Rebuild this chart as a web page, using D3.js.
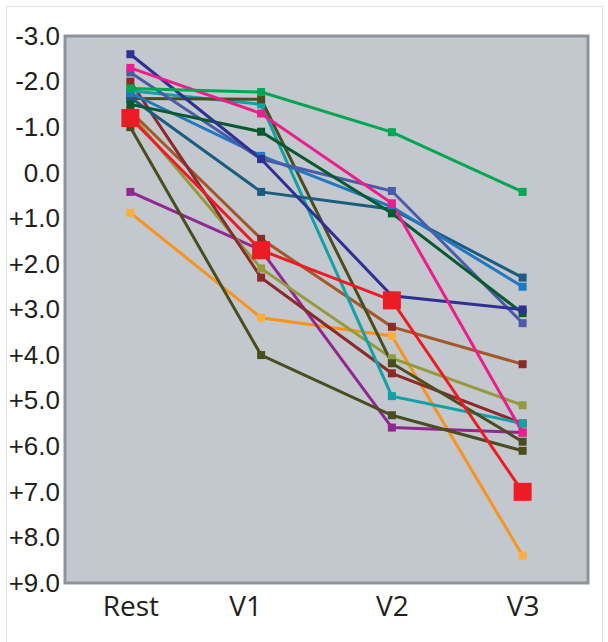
<html>
<script src="https://d3js.org/d3.v7.min.js"></script>
<style>
body { margin: 0; background: white; }
.ytick text { font-family: "Liberation Sans", Arial, sans-serif; font-size: 26px; fill: #231f20; }
.xtick text { font-family: "Open Sans", "DejaVu Sans", sans-serif; font-size: 28px; fill: #231f20; }
</style>
<body>
<svg id="chart" width="608" height="642"></svg>
<script>
var stages = ["Rest", "V1", "V2", "V3"];
var yTicks = [-3, -2, -1, 0, 1, 2, 3, 4, 5, 6, 7, 8, 9];

// one array per subject, values at Rest, V1, V2, V3
var navy       = [-2.6, -0.3, 2.7, 3.0];
var pink       = [-2.3, -1.3, 0.67, 5.7];
var maroon     = [-2.0, 2.3, 4.4, 5.5];
var green      = [-1.85, -1.77, -0.89, 0.42];
var teal       = [-1.8, -1.5, 4.9, 5.5];
var blue       = [-1.75, -0.37, 0.75, 2.5];
var darkOlive  = [-1.63, -1.61, 4.18, 5.9];
var darkGreen  = [-1.5, -0.9, 0.89, 3.08];
var steelBlue  = [-2.2, -0.3, 0.4, 3.3];
var deepBlue   = [-1.65, 0.42, 0.8, 2.3];
var brown      = [-1.35, 1.45, 3.38, 4.2];
var oliveGreen = [-1.3, 2.1, 4.07, 5.1];
var darkOlive2 = [-1.0, 4.0, 5.32, 6.1];
var purple     = [0.42, 1.7, 5.59, 5.7];
var orange     = [0.88, 3.18, 3.58, 8.4];
var mean       = [-1.2, 1.7, 2.8, 7.0];

var subjects = [orange, purple, darkOlive2, oliveGreen, brown, maroon, teal, darkOlive,
                deepBlue, blue, steelBlue, darkGreen, navy, pink, green];
var lineColors   = ["#f7941d", "#92278f", "#4a4d1e", "#949b3c", "#a3582c", "#8b2a2a", "#12a1a6", "#4a4d1e",
                    "#1b5c80", "#1f78c1", "#4a5ba8", "#0a5a30", "#2e3192", "#ec1e8c", "#00a651"];
var markerColors = ["#fbae3c", "#92278f", "#4a4d1e", "#949b3c", "#8b2a2a", "#8b2a2a", "#12a1a6", "#4a4d1e",
                    "#1b5c80", "#1f78c1", "#4a5ba8", "#0a5a30", "#2e3192", "#ec1e8c", "#00a651"];

var plotLeft = 65, plotRight = 588, plotTop = 36, plotBottom = 583;
var svg = d3.select("#chart");

var x = d3.scalePoint().domain(stages).range([plotLeft, plotRight]).padding(0.5);
var y = d3.scaleLinear().domain([-3, 9]).range([plotTop, plotBottom]);

// outer frame
svg.append("rect")
    .attr("x", 6.5).attr("y", 6.5).attr("width", 596).attr("height", 640)
    .attr("fill", "white").attr("stroke", "#e2e2e2");

// plot background
svg.append("rect")
    .attr("x", plotLeft).attr("y", plotTop)
    .attr("width", plotRight - plotLeft).attr("height", plotBottom - plotTop)
    .attr("fill", "#c3c7ce")
    .attr("stroke", "#8d939b").attr("stroke-width", 3);

svg.append("g")
    .attr("class", "ytick")
    .attr("transform", "translate(" + (plotLeft - 2) + ",0)")
    .call(d3.axisLeft(y).tickValues(yTicks).tickSize(0).tickPadding(3)
        .tickFormat(function(d) { return (d > 0 ? "+" : "") + d.toFixed(1); }))
    .call(function(g) { g.select(".domain").remove(); });

svg.append("g")
    .attr("class", "xtick")
    .attr("transform", "translate(0," + plotBottom + ")")
    .call(d3.axisBottom(x).tickSize(0).tickPadding(9))
    .call(function(g) { g.select(".domain").remove(); })
    .selectAll("text")
    .attr("dx", function(d) { return d == "V1" ? -16 : 0; })
    .attr("dy", "0.85em");

var line = d3.line()
    .x(function(d, i) { return x(stages[i]); })
    .y(function(d) { return y(d); });

subjects.forEach(function(s, k) {
    svg.append("path")
        .attr("d", line(s))
        .attr("fill", "none")
        .attr("stroke", lineColors[k])
        .attr("stroke-width", 3);
});

subjects.forEach(function(s, k) {
    svg.selectAll(null)
        .data(s)
        .enter()
        .append("rect")
        .attr("x", function(d, i) { return x(stages[i]) - 4; })
        .attr("y", function(d) { return y(d) - 4; })
        .attr("width", 8)
        .attr("height", 8)
        .attr("fill", markerColors[k]);
});

svg.append("path")
    .attr("d", line(mean))
    .attr("fill", "none")
    .attr("stroke", "#ed1c24")
    .attr("stroke-width", 3);

svg.selectAll(null)
    .data(mean)
    .enter()
    .append("rect")
    .attr("x", function(d, i) { return x(stages[i]) - 9; })
    .attr("y", function(d) { return y(d) - 9; })
    .attr("width", 18)
    .attr("height", 18)
    .attr("fill", "#ed1c24");
</script>
</body>
</html>
